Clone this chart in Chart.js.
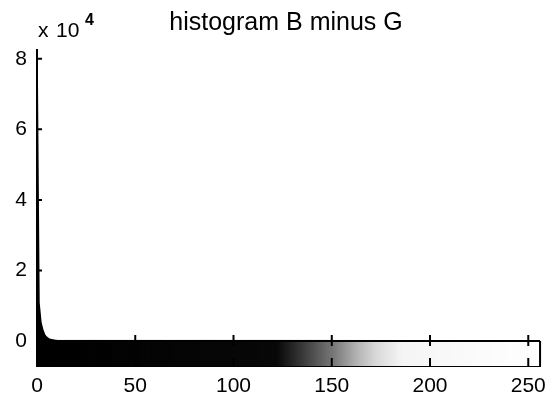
<!DOCTYPE html>
<html>
<head>
<meta charset="UTF-8">
<title>histogram B minus G</title>
<script src="https://cdn.jsdelivr.net/npm/chart.js"></script>
<style>
  * {padding: 0; margin: 0;}
  body {background: #fff;}
  #wrap {width: 554px; height: 401px;}
</style>
</head>
<body>
<div id="wrap"><canvas id="myChart" width="554" height="401"></canvas></div>
<script>
// histogram counts (only the visible spike near 0)
const bins   = [0, 1, 2, 3, 4, 5, 6, 7, 8, 9, 10, 12, 14];
const counts = [82000, 10800, 5200, 3000, 1600, 1000, 600, 400, 300, 200, 150, 80, 0];
// gray levels of the colour bar under the histogram
const grayLevels = Array.from({length: 256}, (v, i) => i);
const xTicks = [0, 50, 100, 150, 200, 250];
const yTicks = [0, 2, 4, 6, 8]; // x 10^4
const yMin = -7100, yMax = 82500;

const tickFont = {family: "'Liberation Sans', Arial, sans-serif", size: 21};

// the scan turns the bar dark early, mimic that look
const shadeStops = [[0, 0], [122, 8], [132, 45], [142, 85], [152, 125], [162, 175], [172, 215], [186, 245], [256, 255]];
function shade(level) {
  for (let i = 1; i < shadeStops.length; i++) {
    const a = shadeStops[i - 1], b = shadeStops[i];
    if (level <= b[0]) {
      const g = Math.round(a[1] + (b[1] - a[1]) * (level - a[0]) / (b[0] - a[0]));
      return 'rgb(' + g + ',' + g + ',' + g + ')';
    }
  }
  return '#fff';
}

// box round the colour bar, tick marks, title and the x10^4 label
const matlabAxes = {
  id: 'matlabAxes',
  afterDraw(chart) {
    const ctx = chart.ctx, x = chart.scales.x, y = chart.scales.y, area = chart.chartArea;
    const y0 = y.getPixelForValue(0);
    ctx.save();
    ctx.strokeStyle = '#000';
    ctx.lineWidth = 2;
    ctx.beginPath();
    ctx.moveTo(area.left, y0); ctx.lineTo(area.right, y0);
    ctx.moveTo(area.right, y0); ctx.lineTo(area.right, area.bottom);
    xTicks.forEach(v => {
      if (v === 0) return;
      const px = x.getPixelForValue(v);
      ctx.moveTo(px, y0 - 6); ctx.lineTo(px, y0 + 5);
      ctx.moveTo(px, area.bottom); ctx.lineTo(px, area.bottom - 8);
    });
    yTicks.forEach(v => {
      const py = y.getPixelForValue(v * 1e4);
      ctx.moveTo(area.left, py); ctx.lineTo(area.left + 5, py);
    });
    ctx.stroke();

    ctx.fillStyle = '#000';
    ctx.textBaseline = 'alphabetic';
    ctx.textAlign = 'center';
    ctx.font = "25px 'Liberation Sans', Arial, sans-serif";
    ctx.fillText('histogram B minus G', 286, 30);
    ctx.textAlign = 'left';
    ctx.font = "21px 'Liberation Sans', Arial, sans-serif";
    ctx.fillText('x', 38, 37);
    ctx.fillText('10', 56, 37);
    ctx.font = "bold 16px 'Liberation Sans', Arial, sans-serif";
    ctx.fillText('4', 85, 25);
    ctx.restore();
  }
};

const ctx = document.getElementById('myChart');
new Chart(ctx, {
  type: 'bar',
  data: {
    datasets: [{
      type: 'line',
      label: 'histogram',
      data: bins.map((b, i) => ({x: b, y: counts[i]})),
      borderColor: '#000',
      borderWidth: 1.5,
      backgroundColor: '#000',
      fill: {target: {value: 0}},
      pointRadius: 0,
      tension: 0,
      order: 0
    }, {
      type: 'bar',
      label: 'colour bar',
      data: grayLevels.map(g => ({x: g + 0.5, y: [yMin, 0]})),
      backgroundColor: grayLevels.map(shade),
      borderWidth: 0,
      inflateAmount: 1,
      barPercentage: 1,
      categoryPercentage: 1,
      order: 1
    }]
  },
  options: {
    responsive: false,
    animation: false,
    layout: {padding: {left: 0, right: 9, top: 50, bottom: 0}},
    plugins: {
      legend: {display: false},
      title: {display: false},
      tooltip: {enabled: false}
    },
    scales: {
      x: {
        type: 'linear',
        min: 0, max: 256,
        offset: false,
        afterBuildTicks: s => { s.ticks = xTicks.map(v => ({value: v})); },
        afterFit: s => { s.height = 35; },
        grid: {display: false, drawTicks: false},
        border: {display: true, color: '#000', width: 2},
        ticks: {color: '#000', font: tickFont, padding: 8, maxRotation: 0, autoSkip: false}
      },
      y: {
        min: yMin, max: yMax,
        afterBuildTicks: s => { s.ticks = yTicks.map(v => ({value: v * 1e4})); },
        afterFit: s => { s.width = 37; },
        grid: {display: false, drawTicks: false},
        border: {display: true, color: '#000', width: 2},
        ticks: {color: '#000', font: tickFont, padding: 10, callback: v => v / 1e4}
      }
    }
  },
  plugins: [matlabAxes]
});
</script>
</body>
</html>
